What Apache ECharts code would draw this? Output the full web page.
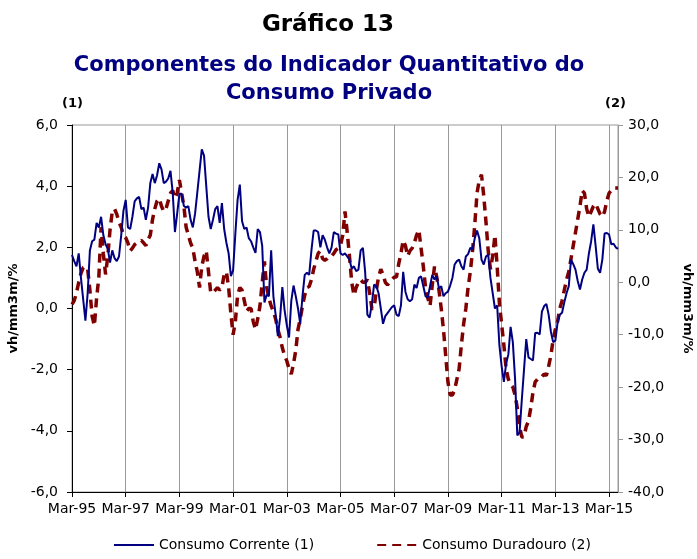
<!DOCTYPE html>
<html>
<head>
<meta charset="utf-8">
<script src="https://cdn.jsdelivr.net/npm/echarts@6/dist/echarts.min.js"></script>
<style>html,body{margin:0;padding:0;background:#fff}#c{width:697px;height:559px}</style>
</head>
<body>
<div id="c"></div>
<script>
// ---- data ----
const monthNames = ['Jan','Feb','Mar','Apr','May','Jun','Jul','Aug','Sep','Oct','Nov','Dec'];
const startYear = 1995, startMonth = 2, nMonths = 245; // Mar-95 .. Jul-15
const categories = [];
for (let k = 0; k < nMonths; k++) {
  const m = (startMonth + k) % 12;
  const y = startYear + Math.floor((startMonth + k) / 12);
  categories.push(monthNames[m] + '-' + String(y % 100).padStart(2, '0'));
}
const consumoCorrente = [
 1.75,1.55,1.38,1.8,1.0,0.3,-0.4,0.5,1.9,2.2,2.25,2.8,
 2.65,3.0,2.4,2.1,1.95,1.5,1.9,1.65,1.55,1.7,2.4,3.2,
 3.55,2.65,2.6,3.0,3.5,3.6,3.65,3.25,3.3,2.9,3.3,4.1,
 4.4,4.1,4.35,4.75,4.55,4.1,4.15,4.25,4.5,3.8,2.5,3.1,
 3.75,3.75,3.35,3.3,3.35,2.9,2.65,3.1,3.8,4.5,5.2,5.0,
 4.0,3.0,2.6,2.9,3.25,3.35,2.8,3.45,2.6,2.15,1.8,1.06,
 1.25,2.45,3.55,4.05,2.85,2.6,2.65,2.3,2.2,2.0,1.82,2.6,
 2.5,2.05,0.2,0.45,0.4,1.9,0.4,-0.2,-0.9,-0.3,0.7,-0.05,
 -0.55,-0.95,0.25,0.75,0.4,0.0,-0.5,0.4,1.1,1.17,1.1,1.9,
 2.55,2.55,2.5,2.0,2.4,2.25,2.0,1.8,2.0,2.5,2.45,2.42,
 1.8,1.75,1.8,1.7,1.6,1.3,1.38,1.22,1.27,1.9,1.98,1.2,
 -0.2,-0.3,0.15,0.78,0.73,0.5,0.0,-0.5,-0.25,-0.15,-0.05,0.05,
 0.1,-0.2,-0.25,0.1,1.2,0.55,0.3,0.24,0.3,0.78,0.67,1.0,
 1.05,0.73,0.4,0.35,0.73,1.1,0.95,1.06,0.65,0.73,0.4,0.5,
 0.55,0.75,1.0,1.44,1.55,1.6,1.38,1.27,1.7,1.78,1.98,1.93,
 2.3,2.55,2.3,1.6,1.44,1.7,1.76,1.0,0.5,0.0,0.1,-1.2,
 -1.89,-2.4,-1.8,-1.5,-0.6,-1.1,-2.3,-4.15,-4.05,-3.0,-2.0,-1.0,
 -1.6,-1.65,-1.7,-0.8,-0.79,-0.85,-0.1,0.08,0.15,-0.2,-0.75,-1.1,
 -1.05,-0.45,-0.2,-0.14,0.2,0.5,0.73,1.6,1.45,1.27,0.9,0.62,
 0.95,1.17,1.27,1.8,2.2,2.75,2.05,1.3,1.17,1.6,2.45,2.47,
 2.42,2.1,2.12,2.0,1.95
];
const consumoDuradouro = [
 -4.2,-3.5,-2.0,0.0,1.7,2.8,3.0,2.5,-1.5,-6.5,-8.3,-3.0,
 1.0,10.5,5.5,1.5,5.0,10.0,13.5,14.0,13.0,11.5,10.5,9.0,
 8.5,7.5,6.0,6.5,7.2,7.5,7.8,8.0,7.5,7.0,8.2,9.0,
 12.0,14.0,15.5,16.0,14.5,13.5,14.0,15.5,17.0,17.5,16.0,17.0,
 19.5,17.0,14.5,10.5,9.0,7.5,6.5,4.0,2.0,-1.0,3.0,5.0,
 6.0,2.0,-2.0,-2.0,-1.5,-1.0,-1.5,-1.0,1.5,2.0,-1.0,-6.0,
 -10.0,-7.5,-2.5,-1.0,-1.5,-3.5,-5.5,-5.0,-5.0,-7.5,-9.0,-7.0,
 -4.5,0.0,4.0,-1.0,-3.0,-4.5,-5.5,-7.0,-9.0,-10.5,-12.5,-14.0,
 -15.0,-16.5,-17.5,-15.5,-13.0,-9.0,-7.0,-4.5,-2.5,-1.0,-0.8,0.5,
 2.5,4.0,5.5,6.0,4.5,4.2,4.5,5.0,5.0,5.5,6.2,6.5,
 7.0,9.0,13.5,9.5,5.0,0.0,-2.5,-1.0,0.0,0.5,0.0,0.0,
 0.5,-2.0,-5.0,-5.0,-1.5,1.0,2.5,1.5,0.0,-0.5,0.0,0.5,
 1.0,1.0,3.5,5.5,8.0,7.0,5.0,6.0,6.5,7.5,9.0,10.0,
 6.5,3.0,-1.0,-3.0,-4.5,-0.5,3.0,1.0,-1.5,-5.0,-9.0,-14.0,
 -19.0,-21.5,-21.5,-20.5,-18.5,-16.5,-12.0,-8.0,-5.0,-1.0,2.0,6.0,
 11.0,17.0,19.5,20.5,16.5,11.5,6.0,2.5,5.0,9.0,3.0,-4.0,
 -8.0,-12.0,-16.5,-18.5,-19.5,-20.0,-21.5,-24.0,-27.5,-29.5,-29.5,-27.5,
 -26.5,-24.0,-21.0,-19.0,-18.5,-18.5,-18.0,-17.5,-17.8,-16.0,-14.0,-11.0,
 -9.0,-7.5,-5.0,-3.5,-1.5,0.5,2.0,4.5,7.0,9.5,12.0,14.5,
 17.5,17.0,14.0,12.5,13.5,14.5,15.0,14.0,13.0,12.5,13.5,15.5,
 17.0,17.5,18.0,18.0,18.0
];
const leftTicks = {min: -6, max: 6, interval: 2};
const rightTicks = {min: -40, max: 30, interval: 10};

// ---- chart ----
const FONT = '"DejaVu Sans",sans-serif';
const fmt = v => v.toFixed(1).replace('.', ',');
const chart = echarts.init(document.getElementById('c'));
chart.setOption({
  animation: false,
  backgroundColor: '#fff',
  textStyle: {fontFamily: FONT},
  title: [
    {text: 'Gráfico 13', left: 323, textAlign: 'center', top: 9,
     textStyle: {fontFamily: FONT, fontSize: 23, fontWeight: 'bold', color: '#000'}},
    {text: 'Componentes do Indicador Quantitativo do\nConsumo Privado', left: 324, textAlign: 'center', top: 47,
     textStyle: {fontFamily: FONT, fontSize: 21, fontWeight: 'bold', color: '#000080', lineHeight: 28}}
  ],
  graphic: [
    {type: 'text', left: 62, top: 97, style: {text: '(1)', font: 'bold 13px ' + FONT, fill: '#000'}},
    {type: 'text', left: 605, top: 97, style: {text: '(2)', font: 'bold 13px ' + FONT, fill: '#000'}}
  ],
  legend: {
    bottom: 2, left: 108, itemGap: 62, itemWidth: 40, itemHeight: 10,
    itemStyle: {opacity: 0},
    textStyle: {fontFamily: FONT, fontSize: 14, color: '#000'},
    data: ['Consumo Corrente (1)', 'Consumo Duradouro (2)']
  },
  grid: {left: 72, right: 79, top: 125, bottom: 67, show: true, borderColor: '#999', borderWidth: 1,
         containLabel: false, outerBoundsMode: 'none'},
  xAxis: {
    type: 'category', data: categories, boundaryGap: false,
    axisLine: {onZero: false, lineStyle: {color: '#000', width: 1}},
    axisTick: {interval: 23, length: 5, lineStyle: {color: '#000'}},
    axisLabel: {interval: 23, color: '#000', fontSize: 14, fontFamily: FONT, margin: 10},
    splitLine: {show: true, interval: 23, lineStyle: {color: '#999', width: 1}}
  },
  yAxis: [
    {type: 'value', min: leftTicks.min, max: leftTicks.max, interval: leftTicks.interval, position: 'left',
     name: 'vh/mm3m/%', nameLocation: 'middle', nameGap: 50, nameRotate: 90,
     nameTextStyle: {fontFamily: FONT, fontSize: 13, fontWeight: 'bold', color: '#000'},
     axisLine: {show: true, lineStyle: {color: '#000'}},
     axisTick: {show: true, length: 5, lineStyle: {color: '#000'}},
     axisLabel: {formatter: fmt, color: '#000', fontSize: 14, fontFamily: FONT, margin: 14},
     splitLine: {show: false}},
    {type: 'value', min: rightTicks.min, max: rightTicks.max, interval: rightTicks.interval, position: 'right',
     name: 'vh/mm3m/%', nameLocation: 'middle', nameGap: 63, nameRotate: -90,
     nameTextStyle: {fontFamily: FONT, fontSize: 13, fontWeight: 'bold', color: '#000'},
     axisLine: {show: true, lineStyle: {color: '#999'}},
     axisTick: {show: true, length: 5, lineStyle: {color: '#999'}},
     axisLabel: {formatter: fmt, color: '#000', fontSize: 14, fontFamily: FONT, margin: 10},
     splitLine: {show: false}}
  ],
  series: [
    {name: 'Consumo Corrente (1)', type: 'line', yAxisIndex: 0, data: consumoCorrente,
     showSymbol: false, symbol: 'none', symbolSize: 0, lineStyle: {color: '#000080', width: 2}, itemStyle: {color: '#000080'}, z: 3},
    {name: 'Consumo Duradouro (2)', type: 'line', yAxisIndex: 1, data: consumoDuradouro,
     showSymbol: false, symbol: 'none', symbolSize: 0, lineStyle: {color: '#800000', width: 3.5, type: [9, 6]}, itemStyle: {color: '#800000'}, z: 2}
  ]
});
</script>
</body>
</html>
